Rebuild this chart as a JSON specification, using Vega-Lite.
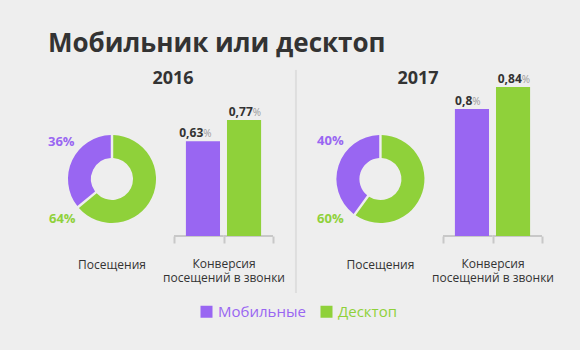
{
  "$schema": "https://vega.github.io/schema/vega-lite/v6.json",
  "background": "#eeeeee",
  "padding": {"left": 48, "top": 30, "right": 28, "bottom": 30},
  "title": {"text": "Мобильник или десктоп", "anchor": "start", "fontSize": 26, "fontWeight": "bold", "color": "#333333", "font": "Open Sans", "offset": 12},
  "datasets": {
    "visits": [
      {"year": 2016, "device": "Мобильные", "share": 0.36},
      {"year": 2016, "device": "Десктоп", "share": 0.64},
      {"year": 2017, "device": "Мобильные", "share": 0.40},
      {"year": 2017, "device": "Десктоп", "share": 0.60}
    ],
    "conversion": [
      {"year": 2016, "device": "Мобильные", "value": 0.63},
      {"year": 2016, "device": "Десктоп", "value": 0.77},
      {"year": 2017, "device": "Мобильные", "value": 0.8},
      {"year": 2017, "device": "Десктоп", "value": 0.84}
    ]
  },
  "spacing": 0,
  "bounds": "flush",
  "resolve": {"scale": {"color": "shared"}, "legend": {"color": "shared"}},
  "hconcat": [
    {
      "width": 126, "height": 137,
      "data": {"name": "visits"},
      "transform": [{"filter": "datum.year == 2016"}],
      "layer": [
        {
          "mark": {"type": "arc", "outerRadius": 44, "innerRadius": 21, "padAngle": 0.05},
          "encoding": {
            "theta": {"field": "share", "type": "quantitative", "stack": true},
            "order": {"field": "device", "sort": "ascending"},
            "color": {"field": "device", "type": "nominal", "scale": {"domain": ["Мобильные", "Десктоп"], "range": ["#9966f2", "#8fd13a"]},
              "legend": {"orient": "none", "legendX": 151, "legendY": 205, "direction": "horizontal", "title": null, "labelColor": {"expr": "scale('color', datum.value)"}}},
            "x": {"datum": 0.508, "type": "quantitative", "scale": {"domain": [0, 1], "nice": false, "zero": false}, "axis": null},
            "y": {"datum": 0.416, "type": "quantitative", "scale": {"domain": [0, 1], "nice": false, "zero": false}, "axis": null}
          }
        },
        {
          "transform": [{"filter": "datum.device == 'Мобильные'"}],
          "mark": {"type": "text", "align": "left", "baseline": "middle", "fontSize": 13, "fontWeight": "bold", "color": "#9966f2"},
          "encoding": {
            "text": {"field": "share", "type": "quantitative", "format": ".0%"},
            "x": {"datum": 0, "type": "quantitative"},
            "y": {"datum": 0.686, "type": "quantitative"}
          }
        },
        {
          "transform": [{"filter": "datum.device == 'Десктоп'"}],
          "mark": {"type": "text", "align": "left", "baseline": "middle", "fontSize": 13, "fontWeight": "bold", "color": "#8fd13a"},
          "encoding": {
            "text": {"field": "share", "type": "quantitative", "format": ".0%"},
            "x": {"datum": 0.008, "type": "quantitative"},
            "y": {"datum": 0.124, "type": "quantitative"}
          }
        },
        {
          "data": {"values": [{"caption": "Посещения", "year": "2016"}]},
          "layer": [
            {
              "mark": {"type": "text", "align": "center", "baseline": "middle", "fontSize": 12, "color": "#333333"},
              "encoding": {
                "text": {"field": "caption"},
                "x": {"datum": 0.508, "type": "quantitative"},
                "y": {"datum": -0.212, "type": "quantitative"}
              }
            },
            {
              "mark": {"type": "text", "align": "center", "baseline": "middle", "fontSize": 18, "fontWeight": "bold", "color": "#333333"},
              "encoding": {
                "text": {"field": "year"},
                "x": {"datum": 0.992, "type": "quantitative"},
                "y": {"datum": 1.145, "type": "quantitative"}
              }
            }
          ]
        }
      ]
    },
    {
      "width": 99, "height": 137,
      "data": {"name": "conversion"},
      "transform": [{"filter": "datum.year == 2016"}],
      "encoding": {
        "y": {"field": "value", "type": "quantitative", "stack": null, "scale": {"domain": [0, 0.91], "nice": false}, "axis": null}
      },
      "resolve": {"scale": {"x": "independent"}, "axis": {"x": "independent"}},
      "layer": [
        {"mark": {"type": "rule", "color": "#c8c8c8", "strokeWidth": 2},
         "encoding": {
           "x": {"field": "device", "type": "nominal", "sort": ["Мобильные", "Десктоп"], "bandPosition": 0, "scale": {"paddingInner": 0, "paddingOuter": 0},
             "axis": {"title": ["Конверсия", "посещений в звонки"], "labels": false, "domain": false, "tickBand": "extent", "tickColor": "#c8c8c8", "tickWidth": 2, "tickSize": 7, "titleFontSize": 12, "titleFontWeight": "normal", "titleColor": "#333333", "titlePadding": 14, "titleLineHeight": 14, "grid": false}},
           "x2": {"field": "device", "bandPosition": 1},
           "y": {"datum": 0, "type": "quantitative"}
         }},
        {"mark": {"type": "bar"},
         "encoding": {
           "x": {"field": "device", "type": "nominal", "sort": ["Мобильные", "Десктоп"], "scale": {"paddingInner": 0.17, "paddingOuter": 0.29}, "axis": null},
           "color": {"field": "device", "type": "nominal", "scale": {"domain": ["Мобильные", "Десктоп"], "range": ["#9966f2", "#8fd13a"]}}}},
        {"mark": {"type": "text", "align": "right", "baseline": "alphabetic", "dx": 4.5, "dy": -4, "fontSize": 12, "fontWeight": "bold", "color": "#333333"},
         "encoding": {
           "x": {"field": "device", "type": "nominal", "sort": ["Мобильные", "Десктоп"], "scale": {"paddingInner": 0.17, "paddingOuter": 0.29}, "axis": null},
           "text": {"field": "value", "type": "quantitative", "format": ".2~f"}}},
        {"mark": {"type": "text", "align": "left", "baseline": "alphabetic", "dx": 4.5, "dy": -4, "fontSize": 10, "color": "#9a9a9a", "text": "%"},
         "encoding": {
           "x": {"field": "device", "type": "nominal", "sort": ["Мобильные", "Десктоп"], "scale": {"paddingInner": 0.17, "paddingOuter": 0.29}, "axis": null}}}
      ]
    },
    {
      "width": 170, "height": 137,
      "data": {"name": "visits"},
      "transform": [{"filter": "datum.year == 2017"}],
      "layer": [
        {
          "transform": [{"filter": "datum.device == 'Мобильные'"}],
          "mark": {"type": "rule", "color": "#dedede", "strokeWidth": 2},
          "encoding": {
            "x": {"datum": 0.135, "type": "quantitative", "scale": {"domain": [0, 1], "nice": false, "zero": false}, "axis": null},
            "y": {"datum": -0.416, "type": "quantitative", "scale": {"domain": [0, 1], "nice": false, "zero": false}, "axis": null},
            "y2": {"datum": 1.212}
          }
        },
        {
          "mark": {"type": "arc", "outerRadius": 44, "innerRadius": 21, "padAngle": 0.05},
          "encoding": {
            "theta": {"field": "share", "type": "quantitative", "stack": true},
            "order": {"field": "device", "sort": "ascending"},
            "color": {"field": "device", "type": "nominal", "scale": {"domain": ["Мобильные", "Десктоп"], "range": ["#9966f2", "#8fd13a"]}},
            "x": {"datum": 0.632, "type": "quantitative"},
            "y": {"datum": 0.416, "type": "quantitative"}
          }
        },
        {
          "transform": [{"filter": "datum.device == 'Мобильные'"}],
          "mark": {"type": "text", "align": "left", "baseline": "middle", "fontSize": 13, "fontWeight": "bold", "color": "#9966f2"},
          "encoding": {
            "text": {"field": "share", "type": "quantitative", "format": ".0%"},
            "x": {"datum": 0.259, "type": "quantitative"},
            "y": {"datum": 0.693, "type": "quantitative"}
          }
        },
        {
          "transform": [{"filter": "datum.device == 'Десктоп'"}],
          "mark": {"type": "text", "align": "left", "baseline": "middle", "fontSize": 13, "fontWeight": "bold", "color": "#8fd13a"},
          "encoding": {
            "text": {"field": "share", "type": "quantitative", "format": ".0%"},
            "x": {"datum": 0.259, "type": "quantitative"},
            "y": {"datum": 0.124, "type": "quantitative"}
          }
        },
        {
          "data": {"values": [{"caption": "Посещения", "year": "2017"}]},
          "layer": [
            {
              "mark": {"type": "text", "align": "center", "baseline": "middle", "fontSize": 12, "color": "#333333"},
              "encoding": {
                "text": {"field": "caption"},
                "x": {"datum": 0.632, "type": "quantitative"},
                "y": {"datum": -0.212, "type": "quantitative"}
              }
            },
            {
              "mark": {"type": "text", "align": "center", "baseline": "middle", "fontSize": 18, "fontWeight": "bold", "color": "#333333"},
              "encoding": {
                "text": {"field": "year"},
                "x": {"datum": 0.853, "type": "quantitative"},
                "y": {"datum": 1.145, "type": "quantitative"}
              }
            }
          ]
        }
      ]
    },
    {
      "width": 99, "height": 137,
      "data": {"name": "conversion"},
      "transform": [{"filter": "datum.year == 2017"}],
      "encoding": {
        "y": {"field": "value", "type": "quantitative", "stack": null, "scale": {"domain": [0.569, 0.818], "nice": false, "zero": false}, "axis": null}
      },
      "resolve": {"scale": {"x": "independent"}, "axis": {"x": "independent"}},
      "layer": [
        {"mark": {"type": "rule", "color": "#c8c8c8", "strokeWidth": 2},
         "encoding": {
           "x": {"field": "device", "type": "nominal", "sort": ["Мобильные", "Десктоп"], "bandPosition": 0, "scale": {"paddingInner": 0, "paddingOuter": 0},
             "axis": {"title": ["Конверсия", "посещений в звонки"], "labels": false, "domain": false, "tickBand": "extent", "tickColor": "#c8c8c8", "tickWidth": 2, "tickSize": 7, "titleFontSize": 12, "titleFontWeight": "normal", "titleColor": "#333333", "titlePadding": 14, "titleLineHeight": 14, "grid": false}},
           "x2": {"field": "device", "bandPosition": 1},
           "y": {"datum": 0.569, "type": "quantitative"}
         }},
        {"mark": {"type": "bar"},
         "encoding": {
           "x": {"field": "device", "type": "nominal", "sort": ["Мобильные", "Десктоп"], "scale": {"paddingInner": 0.17, "paddingOuter": 0.29}, "axis": null},
           "color": {"field": "device", "type": "nominal", "scale": {"domain": ["Мобильные", "Десктоп"], "range": ["#9966f2", "#8fd13a"]}}}},
        {"mark": {"type": "text", "align": "right", "baseline": "alphabetic", "dx": 4.5, "dy": -4, "fontSize": 12, "fontWeight": "bold", "color": "#333333"},
         "encoding": {
           "x": {"field": "device", "type": "nominal", "sort": ["Мобильные", "Десктоп"], "scale": {"paddingInner": 0.17, "paddingOuter": 0.29}, "axis": null},
           "text": {"field": "value", "type": "quantitative", "format": ".2~f"}}},
        {"mark": {"type": "text", "align": "left", "baseline": "alphabetic", "dx": 4.5, "dy": -4, "fontSize": 10, "color": "#9a9a9a", "text": "%"},
         "encoding": {
           "x": {"field": "device", "type": "nominal", "sort": ["Мобильные", "Десктоп"], "scale": {"paddingInner": 0.17, "paddingOuter": 0.29}, "axis": null}}}
      ]
    }
  ],
  "config": {
    "view": {"stroke": null},
    "font": "Open Sans",
    "locale": {"number": {"decimal": ",", "thousands": " ", "grouping": [3], "currency": ["", ""]}},
    "legend": {"symbolType": "square", "symbolSize": 144, "symbolStrokeWidth": 0, "symbolOpacity": 1, "labelFontSize": 15, "labelFont": "Open Sans", "labelOffset": 4, "columnPadding": 13, "labelLimit": 300}
  }
}
